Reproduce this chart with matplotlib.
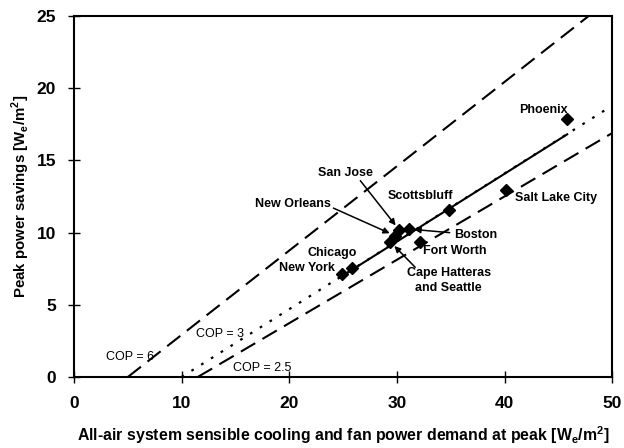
import matplotlib
matplotlib.use("Agg")
import matplotlib.pyplot as plt

plt.rcParams["font.family"] = ["Liberation Sans", "DejaVu Sans"]

# city results: demand at peak vs peak power savings
cities = ["Phoenix", "Salt Lake City", "Scottsbluff", "Boston", "San Jose",
          "New Orleans", "Cape Hatteras", "Fort Worth", "Chicago", "New York"]
demand = [45.8, 40.1, 34.8, 31.1, 30.2, 29.8, 29.4, 32.1, 25.8, 24.9]
savings = [17.9, 12.95, 11.6, 10.25, 10.2, 9.8, 9.35, 9.35, 7.55, 7.13]

# reference COP lines (end points)
cop6_x, cop6_y = [5.0, 47.8], [0.0, 25.0]
cop3_x, cop3_y = [10.0, 50.0], [0.0, 18.8]
cop25_x, cop25_y = [11.5, 50.0], [0.0, 16.9]
# fitted segment along the COP = 3 line
fit_x, fit_y = [24.5, 45.9], [6.8, 16.85]

fig = plt.figure(figsize=(6.24, 4.48), dpi=100)
ax = fig.add_axes([0.1186, 0.1585, 0.8625, 0.8055])

ax.plot(cop6_x, cop6_y, color="black", lw=1.5, dashes=(8, 4))
ax.plot(cop25_x, cop25_y, color="black", lw=1.5, dashes=(8, 4))
ax.plot(cop3_x, cop3_y, color="black", lw=1.6, dashes=(1.2, 4))
ax.plot(fit_x, fit_y, color="black", lw=1.5, solid_capstyle="butt")
ax.plot(demand, savings, "D", color="black", markersize=6, zorder=5)

bold = dict(fontsize=9, fontweight="bold", ha="center", va="center")
ax.text(43.6, 18.5, "Phoenix", **bold)
ax.text(44.8, 12.4, "Salt Lake City", **bold)
ax.text(32.2, 12.55, "Scottsbluff", **bold)
ax.text(25.2, 14.15, "San Jose", **bold)
ax.text(20.3, 11.95, "New Orleans", **bold)
ax.text(37.3, 9.85, "Boston", **bold)
ax.text(35.4, 8.7, "Fort Worth", **bold)
ax.text(34.8, 6.7, "Cape Hatteras\nand Seattle", linespacing=1.3, **bold)
ax.text(24.0, 8.6, "Chicago", **bold)
ax.text(21.6, 7.55, "New York", **bold)

norm = dict(fontsize=9, ha="center", va="center")
ax.text(5.2, 1.4, "COP = 6", **norm)
ax.text(13.6, 3.0, "COP = 3", **norm)
ax.text(17.5, 0.6, "COP = 2.5", **norm)

arrow = dict(arrowstyle="-|>", color="black", lw=1.1, mutation_scale=9,
             shrinkA=0, shrinkB=4)
ax.annotate("", xy=(30.2, 10.2), xytext=(26.6, 13.6), arrowprops=arrow)
ax.annotate("", xy=(29.8, 9.8), xytext=(24.1, 11.7), arrowprops=arrow)
ax.annotate("", xy=(31.1, 10.25), xytext=(34.9, 10.0), arrowprops=arrow)
ax.annotate("", xy=(29.4, 9.35), xytext=(31.7, 7.6), arrowprops=arrow)

ax.set_xlim(0, 50)
ax.set_ylim(0, 25)
ax.set_xticks([0, 10, 20, 30, 40, 50])
ax.set_yticks([0, 5, 10, 15, 20, 25])
ax.tick_params(direction="inout", length=8, width=1, labelsize=12.5)
ax.tick_params(axis="x", pad=10)
ax.tick_params(axis="y", pad=9)
for lab in ax.get_xticklabels() + ax.get_yticklabels():
    lab.set_fontweight("bold")
for sp in ax.spines.values():
    sp.set_linewidth(1.5)

ax.set_xlabel("All-air system sensible cooling and fan power demand at peak [W$_\\mathregular{e}$/m$^\\mathregular{2}$]",
              fontsize=11.4, fontweight="bold", labelpad=9)
ax.set_ylabel("Peak power savings [W$_\\mathregular{e}$/m$^\\mathregular{2}$]",
              fontsize=10.8, fontweight="bold", labelpad=3)

fig.savefig("out.png", dpi=100)
